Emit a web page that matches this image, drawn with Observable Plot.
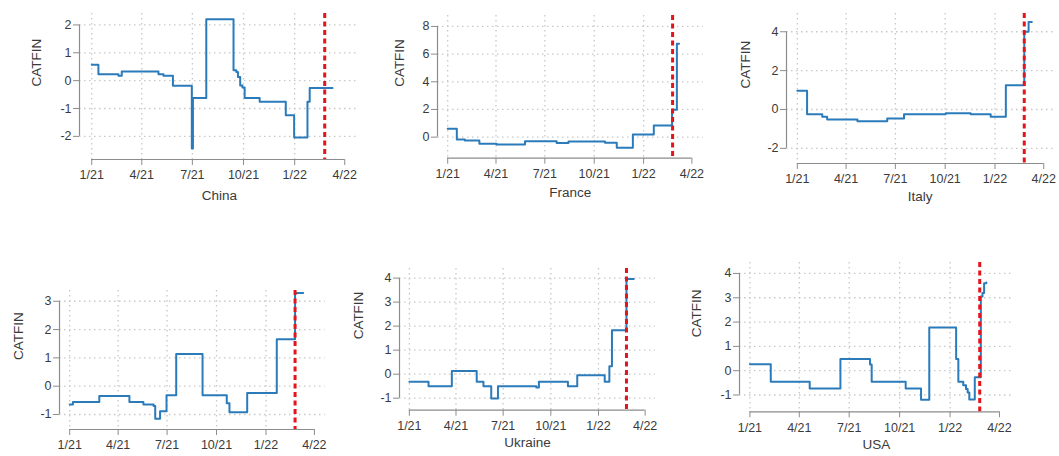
<!DOCTYPE html>
<html>
<head>
<meta charset="utf-8">
<script src="https://cdn.jsdelivr.net/npm/d3@7"></script>
<script src="https://cdn.jsdelivr.net/npm/@observablehq/plot@0.6"></script>
<style>
html, body { margin: 0; padding: 0; background: #fff; overflow: hidden; }
#root { position: relative; width: 1059px; height: 456px; overflow: hidden; background: #fff; }
#root svg { position: absolute; overflow: visible; }
</style>
</head>
<body>
<div id="root"></div>
<script>
// ---- shared axis ticks ----
const xTicks = ["2021-01-01", "2021-04-01", "2021-07-01", "2021-10-01", "2022-01-01", "2022-04-01"];
const xTickLabels = ["1/21", "4/21", "7/21", "10/21", "1/22", "4/22"];
const eventDate = "2022-02-24";
const yLabel = "CATFIN";

// ---- China ----
const chinaDates = ["2021-01-01","2021-01-13","2021-02-18","2021-02-24","2021-05-01","2021-05-10","2021-05-27","2021-06-30","2021-07-02","2021-07-26","2021-09-13","2021-09-18","2021-09-21","2021-09-25","2021-09-29","2021-10-03","2021-10-30","2021-12-16","2021-12-31","2022-01-24","2022-01-28","2022-03-10"];
const chinaValues = [0.57,0.23,0.18,0.33,0.23,0.18,-0.18,-2.44,-0.62,2.2,0.37,0.31,0.13,-0.17,-0.25,-0.62,-0.76,-1.24,-2.04,-0.76,-0.26,-0.26];
const chinaTicks = [-2, -1, 0, 1, 2];

// ---- France ----
const franceDates = ["2021-01-01","2021-01-18","2021-02-02","2021-03-01","2021-04-02","2021-05-25","2021-07-23","2021-08-14","2021-10-21","2021-11-12","2021-12-12","2022-01-20","2022-02-23","2022-03-04","2022-03-08"];
const franceValues = [0.6,-0.17,-0.24,-0.48,-0.53,-0.29,-0.43,-0.31,-0.41,-0.77,0.19,0.84,1.98,6.75,6.75];
const franceTicks = [0, 2, 4, 6, 8];

// ---- Italy ----
const italyDates = ["2021-01-01","2021-01-19","2021-02-16","2021-02-25","2021-04-22","2021-06-16","2021-07-17","2021-10-02","2021-11-17","2021-12-24","2022-01-21","2022-02-24","2022-03-04","2022-03-10"];
const italyValues = [0.96,-0.24,-0.38,-0.51,-0.6,-0.46,-0.24,-0.19,-0.24,-0.38,1.25,4.0,4.5,4.5];
const italyTicks = [-2, 0, 2, 4];

// ---- bottom-left panel (label cut off in the reference) ----
const panel4Dates = ["2021-01-01","2021-01-07","2021-02-25","2021-04-22","2021-05-18","2021-06-06","2021-06-09","2021-06-18","2021-06-30","2021-07-18","2021-09-05","2021-10-20","2021-10-25","2021-11-27","2022-01-21","2022-02-24","2022-03-11"];
const panel4Values = [-0.65,-0.56,-0.35,-0.56,-0.65,-0.7,-1.15,-0.89,-0.32,1.14,-0.32,-0.6,-0.92,-0.24,1.66,3.29,3.29];
const panel4Ticks = [-1, 0, 1, 2, 3];

// ---- Ukraine ----
const ukraineDates = ["2021-01-01","2021-02-07","2021-03-24","2021-05-11","2021-05-24","2021-06-08","2021-06-21","2021-09-03","2021-09-08","2021-11-03","2021-11-21","2022-01-13","2022-01-22","2022-01-27","2022-02-24","2022-03-10"];
const ukraineValues = [-0.32,-0.5,0.13,-0.32,-0.5,-1.01,-0.5,-0.55,-0.32,-0.5,-0.04,-0.32,0.33,1.83,3.96,3.96];
const ukraineTicks = [-1, 0, 1, 2, 3, 4];

// ---- USA ----
const usaDates = ["2021-01-01","2021-02-08","2021-04-20","2021-06-15","2021-08-08","2021-08-11","2021-10-12","2021-11-09","2021-11-24","2022-01-12","2022-01-16","2022-01-25","2022-01-30","2022-02-02","2022-02-05","2022-02-15","2022-02-26","2022-03-01","2022-03-04","2022-03-08"];
const usaValues = [0.27,-0.45,-0.73,0.48,0.25,-0.45,-0.73,-1.2,1.78,0.48,-0.45,-0.6,-0.75,-0.9,-1.18,-0.27,3.05,3.2,3.6,3.63];
const usaTicks = [-1, 0, 1, 2, 3, 4];

// ---- layout (frame in page px: left, top, right, bottom) ----
const panels = [
  {name: "China",   dates: chinaDates,   values: chinaValues,   yTicks: chinaTicks,   frame: [79.3, 13.3, 359, 159.3],  xDomain: ["2020-12-10", "2022-04-27"], yDomain: [-2.83, 2.41], titleDy: 40.5, yLabelDx: 42.5},
  {name: "France",  dates: franceDates,  values: franceValues,  yTicks: franceTicks,  frame: [437.3, 15, 703, 157.7],   xDomain: ["2020-12-13", "2022-04-22"], yDomain: [-1.52, 8.79], titleDy: 39,   yLabelDx: 37.5},
  {name: "Italy",   dates: italyDates,   values: italyValues,   yTicks: italyTicks,   frame: [786, 13.3, 1053, 163.3],  xDomain: ["2020-12-12", "2022-04-19"], yDomain: [-2.78, 4.94], titleDy: 37,   yLabelDx: 41},
  {name: "",        dates: panel4Dates,  values: panel4Values,  yTicks: panel4Ticks,  frame: [59.3, 290, 325, 429],     xDomain: ["2020-12-13", "2022-04-21"], yDomain: [-1.53, 3.38], titleDy: 40,   yLabelDx: 41},
  {name: "Ukraine", dates: ukraineDates, values: ukraineValues, yTicks: ukraineTicks, frame: [399, 268.3, 655, 410],    xDomain: ["2020-12-13", "2022-04-21"], yDomain: [-1.5, 4.4],   titleDy: 37,   yLabelDx: 40.7},
  {name: "USA",     dates: usaDates,     values: usaValues,     yTicks: usaTicks,     frame: [739.3, 261.7, 1013, 411], xDomain: ["2020-12-13", "2022-04-26"], yDomain: [-1.69, 4.45], titleDy: 37.5, yLabelDx: 42.5}
];

const parse = s => new Date(s + "T00:00:00Z");
const tickDates = xTicks.map(parse);
const fmtX = d => xTickLabels[tickDates.findIndex(t => +t === +d)];

const AXIS = "#8c8c8c", TEXT = "#3a3a3a", GRID = "#c8c8c8";
const LINE = "#2b7bba", RED = "#e3141c";
const FONT = "'Liberation Sans', Arial, Helvetica, sans-serif";

const root = document.getElementById("root");
for (const p of panels) {
  const [L, T, R, B] = p.frame;
  const ML = 55, MR = 8, MT = 8, MB = 55;
  const data = p.dates.map((d, i) => ({date: parse(d), value: p.values[i]}));
  const x0 = parse(p.xDomain[0]);
  const yAxisLine = [{x: x0, y1: p.yTicks[0], y2: p.yTicks[p.yTicks.length - 1]}];
  const xAxisLine = [{y: p.yDomain[0], x1: tickDates[0], x2: tickDates[tickDates.length - 1]}];
  const marks = [
    Plot.ruleY(p.yTicks, {stroke: GRID, strokeWidth: 1.3, strokeDasharray: "1.5,3.5"}),
    Plot.ruleX(tickDates.slice(0, -1), {stroke: GRID, strokeWidth: 1.3, strokeDasharray: "1.5,3.5"}),
    Plot.ruleX(yAxisLine, {x: "x", y1: "y1", y2: "y2", stroke: AXIS, strokeWidth: 1.2}),
    Plot.ruleY(xAxisLine, {y: "y", x1: "x1", x2: "x2", stroke: AXIS, strokeWidth: 1.2}),
    Plot.axisY({ticks: p.yTicks, tickFormat: d => String(d), tickSize: 6, tickPadding: 2, stroke: AXIS, fill: TEXT, fontSize: 12.5, label: null}),
    Plot.axisX({ticks: tickDates, tickFormat: fmtX, tickSize: 6, tickPadding: 5, stroke: AXIS, fill: TEXT, fontSize: 12.5, label: null}),
    Plot.line(data, {x: "date", y: "value", curve: "step-after", stroke: LINE, strokeWidth: 2}),
    Plot.ruleX([parse(eventDate)], {stroke: RED, strokeWidth: 3, strokeDasharray: "5,3.5"}),
    Plot.text([yLabel], {frameAnchor: "left", rotate: -90, dx: -p.yLabelDx, fontSize: 13.5, fill: TEXT})
  ];
  if (p.name) marks.push(Plot.text([p.name], {frameAnchor: "bottom", dy: p.titleDy, fontSize: 13.5, fill: TEXT}));
  const chart = Plot.plot({
    width: R - L + ML + MR,
    height: B - T + MT + MB,
    marginLeft: ML, marginRight: MR, marginTop: MT, marginBottom: MB,
    style: {fontFamily: FONT, fontSize: "12.5px", background: "transparent", color: TEXT, overflow: "visible"},
    x: {type: "utc", domain: [x0, parse(p.xDomain[1])]},
    y: {domain: p.yDomain},
    marks
  });
  chart.style.left = (L - ML) + "px";
  chart.style.top = (T - MT) + "px";
  root.appendChild(chart);
}
</script>
</body>
</html>
